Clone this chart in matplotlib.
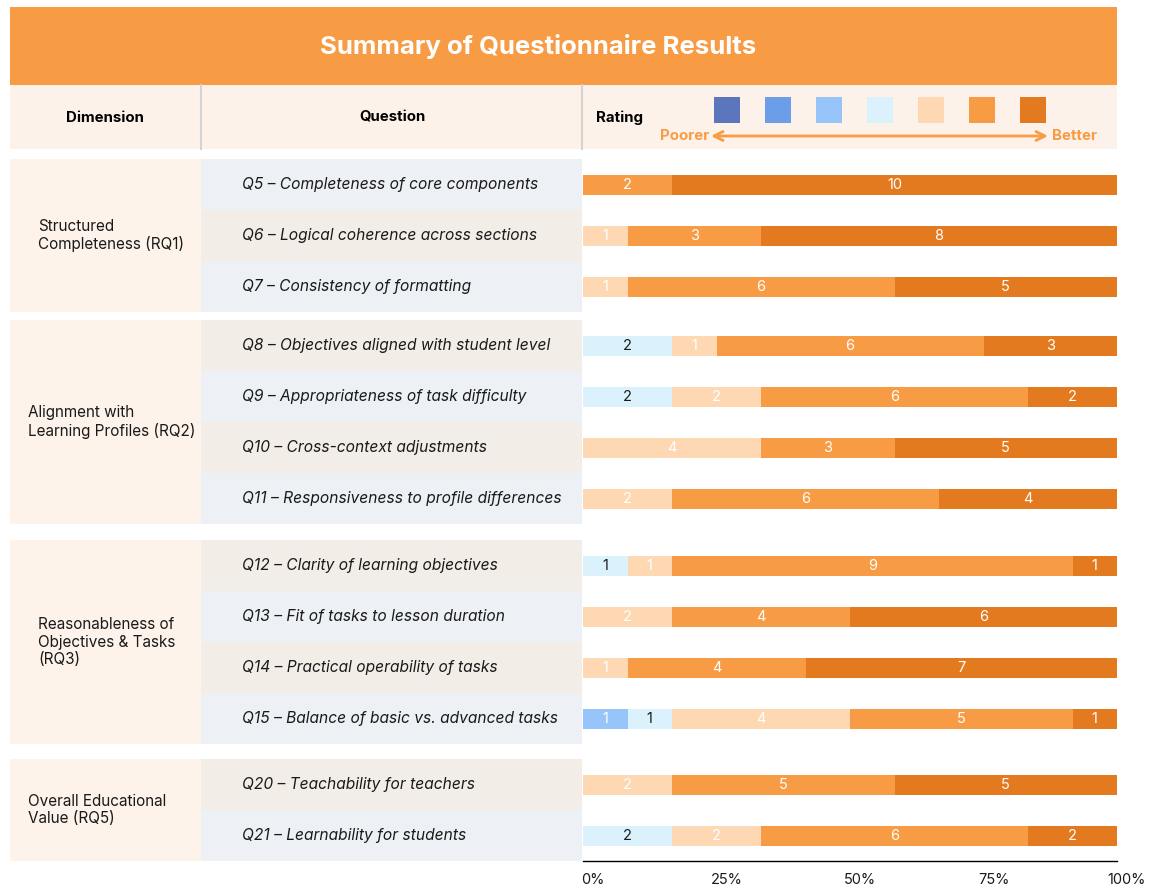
import matplotlib.pyplot as plt
from matplotlib.patches import Rectangle
from matplotlib.transforms import ScaledTranslation
import numpy as np

plt.rcParams['font.family'] = ['Inter', 'DejaVu Sans']

title = 'Summary of Questionnaire Results'

dimensions = ['Structured\nCompleteness (RQ1)',
              'Alignment with\nLearning Profiles (RQ2)',
              'Reasonableness of\nObjectives & Tasks\n(RQ3)',
              'Overall Educational\nValue (RQ5)']
group_sizes = [3, 4, 4, 2]

questions = ['Q5 – Completeness of core components',
             'Q6 – Logical coherence across sections',
             'Q7 – Consistency of formatting',
             'Q8 – Objectives aligned with student level',
             'Q9 – Appropriateness of task difficulty',
             'Q10 – Cross-context adjustments',
             'Q11 – Responsiveness to profile differences',
             'Q12 – Clarity of learning objectives',
             'Q13 – Fit of tasks to lesson duration',
             'Q14 – Practical operability of tasks',
             'Q15 – Balance of basic vs. advanced tasks',
             'Q20 – Teachability for teachers',
             'Q21 – Learnability for students']

# number of responses per rating level (1 = poorest, 7 = best)
rating_1 = [0, 0, 0, 0, 0, 0, 0, 0, 0, 0, 0, 0, 0]
rating_2 = [0, 0, 0, 0, 0, 0, 0, 0, 0, 0, 0, 0, 0]
rating_3 = [0, 0, 0, 0, 0, 0, 0, 0, 0, 0, 1, 0, 0]
rating_4 = [0, 0, 0, 2, 2, 0, 0, 1, 0, 0, 1, 0, 2]
rating_5 = [0, 1, 1, 1, 2, 4, 2, 1, 2, 1, 4, 2, 2]
rating_6 = [2, 3, 6, 6, 6, 3, 6, 9, 4, 4, 5, 5, 6]
rating_7 = [10, 8, 5, 3, 2, 5, 4, 1, 6, 7, 1, 5, 2]

tick_labels = ['0%', '25%', '50%', '75%', '100%']

colors = ['#5B76BD', '#6B9DE8', '#97C5FA', '#DBF2FD', '#FDD8B2', '#F89B45', '#E47A20']
dark_text = {3}  # rating level whose labels are dark

W, H = 1153, 886
fig = plt.figure(figsize=(W / 100, H / 100), dpi=100)
bg = fig.add_axes([0, 0, 1, 1])
bg.set_xlim(0, W)
bg.set_ylim(H, 0)
bg.axis('off')

left, col1, col2, right = 10, 201, 582, 1117
row_h = 51
gaps = [10, 8, 16, 15]
header_bottom = 149

# title bar and header row
bg.add_patch(Rectangle((left, 7), right - left, 78, color='#F89B45', lw=0))
bg.text(538, 46, title, color='white', fontsize=18.5, fontweight='bold',
        ha='center', va='center')
bg.add_patch(Rectangle((left, 85), right - left, header_bottom - 85,
                       color='#FDF2E9', lw=0))
for x in (col1, col2):
    bg.plot([x, x], [85, header_bottom], color='#D3D3D3', lw=1.5)
bg.text(105, 118, 'Dimension', fontsize=10.8, fontweight='bold', ha='center', va='center')
bg.text(392, 117, 'Question', fontsize=10.8, fontweight='bold', ha='center', va='center')
bg.text(596, 118, 'Rating', fontsize=10.8, fontweight='bold', ha='left', va='center')

# legend squares and arrow
for i, c in enumerate(colors):
    cx = 727 + 51 * i
    bg.add_patch(Rectangle((cx - 13, 97), 26, 26, color=c, lw=0))
bg.annotate('', xy=(711, 136), xytext=(1048, 136),
            arrowprops=dict(arrowstyle='<->', color='#F89B45', lw=2,
                            mutation_scale=16, shrinkA=0, shrinkB=0))
bg.text(709, 136, 'Poorer', color='#F89B45', fontsize=10.8, fontweight='bold',
        ha='right', va='center')
bg.text(1052, 136, 'Better', color='#F89B45', fontsize=10.8, fontweight='bold',
        ha='left', va='center')

# table blocks
centers = []
y = header_bottom
k = 0
for g, (dim, n) in enumerate(zip(dimensions, group_sizes)):
    y += gaps[g]
    top = y
    bg.add_patch(Rectangle((left, top), col1 - left, n * row_h, color='#FDF3EB', lw=0))
    for j in range(n):
        if g == 0:
            shade = '#EDF1F5' if j % 2 == 0 else '#F2EEE7'
        else:
            shade = '#F2EEE7' if j % 2 == 0 else '#EDF1F5'
        bg.add_patch(Rectangle((col1, y), col2 - col1, row_h, color=shade, lw=0))
        bg.text(242, y + row_h / 2, questions[k], fontsize=11.2, style='italic',
                ha='left', va='center', color='#1A1A1A')
        centers.append(y + row_h / 2)
        y += row_h
        k += 1
    dx = 38 if g in (0, 2) else 28
    bg.text(dx, top + n * row_h / 2, dim, fontsize=11, ha='left', va='center',
            color='#1A1A1A', linespacing=1.2)

# stacked bars
ax = fig.add_axes([583 / W, 1 - 861 / H, (right - 583) / W, (861 - header_bottom) / H])
ax.set_xlim(0, 1)
ax.set_ylim(861, header_bottom)
ax.patch.set_alpha(0)

data = np.array([rating_1, rating_2, rating_3, rating_4, rating_5, rating_6, rating_7], float)
share = data / data.sum(axis=0)
cum = np.zeros(len(questions))
for i in range(7):
    ax.barh(centers, share[i], left=cum, height=20, color=colors[i], lw=0)
    for q in range(len(questions)):
        if data[i, q] > 0:
            ax.text(cum[q] + share[i, q] / 2, centers[q], f'{int(data[i, q])}',
                    ha='center', va='center', fontsize=10.5,
                    color='#1A1A1A' if i in dark_text else 'white')
    cum += share[i]

for s in ('top', 'right', 'left'):
    ax.spines[s].set_visible(False)
ax.spines['bottom'].set_color('black')
ax.spines['bottom'].set_linewidth(1)
ax.set_yticks([])
ax.set_xticks([0, 0.25, 0.5, 0.75, 1])
ax.set_xticklabels(tick_labels, fontsize=10.5, color='#1A1A1A')
ax.tick_params(axis='x', length=0, pad=9)
off = ScaledTranslation(10 / 100, 0, fig.dpi_scale_trans)
for lbl in ax.get_xticklabels():
    lbl.set_transform(lbl.get_transform() + off)

fig.savefig('out.png', dpi=100)
